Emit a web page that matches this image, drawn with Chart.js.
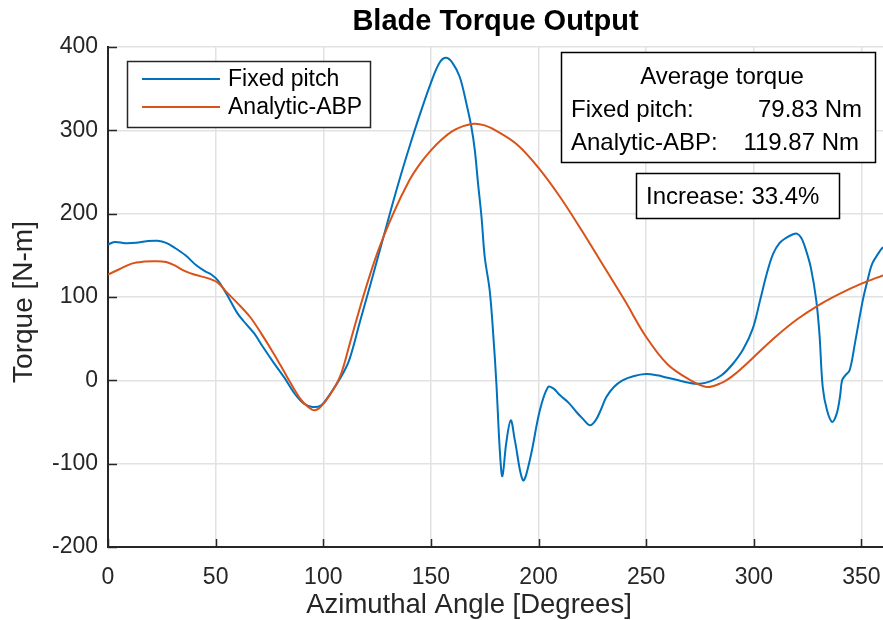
<!DOCTYPE html>
<html>
<head>
<meta charset="utf-8">
<script src="https://cdn.jsdelivr.net/npm/chart.js@4"></script>
<style>
  html, body { margin: 0; padding: 0; background: #fff; }
</style>
</head>
<body>
<canvas id="torque-chart" width="883" height="620"></canvas>
<script>
// Data
const fixedAngle = [0, 3, 8, 13, 18, 23, 27, 31, 36, 41, 45, 48, 51, 55, 60, 64, 68, 72, 77, 82, 87, 91, 95, 99, 103, 108, 112, 117, 122, 127, 132, 136, 140, 145, 150, 154, 157, 160, 163.4, 166.5, 168.8, 170.4, 171.9, 173.5, 175, 177.3, 178.9, 180.4, 182, 183.2, 185, 187.1, 189, 192.8, 196, 200.6, 204.4, 207, 210, 214, 217.6, 220.5, 223.8, 226.5, 229, 231.5, 235, 239, 244, 250, 255, 260, 265, 270, 275, 280, 285, 290, 295, 299.5, 303, 306, 309, 312, 315, 318, 320, 322, 324, 326.5, 329, 330.5, 332, 334, 336.4, 338.5, 340, 341, 342.5, 344.5, 347, 350.6, 353, 355, 358, 360];
const fixedTorque = [163, 166, 164.5, 165, 167, 167.5, 165, 159, 150, 138, 131, 127, 120, 104, 81, 68, 56, 40, 21, 3, -17, -28, -32, -30, -17, 3, 24, 70, 116, 163, 210, 246, 280, 320, 357, 381, 387, 381, 364, 332, 304, 276, 236, 196, 148, 108, 57, -3, -84, -115, -75, -48, -72, -120, -95, -36, -8, -10, -18, -27, -38, -46, -54, -48, -35, -20, -8, 0, 5, 7.5, 6, 3, 0, -3, -4, -1, 6, 19, 37, 62, 97, 128, 152, 165, 171, 175, 176, 171, 158, 135, 96, 55, -8, -36, -50, -40, -20, 0, 6, 12, 45, 96, 122, 140, 153, 160];

const abpAngle = [0, 5, 11, 17, 22, 27, 31, 35, 40, 47, 51, 55, 60, 66, 71, 77, 83, 89, 93, 96, 99, 103, 108, 112.3, 118.5, 125, 132.5, 140, 145, 150, 155, 160, 165, 170, 175, 180, 190, 200, 210, 220, 230, 240, 250, 260, 270, 278, 285, 290, 295, 300, 310, 320, 330, 340, 350, 360];
const abpTorque = [127, 133, 140, 142.5, 143, 142, 138, 132, 127, 122, 117, 106, 93, 76, 57, 32, 5, -21, -32, -36, -31, -18, 6, 44, 100, 152, 200, 240, 260, 276, 289, 299, 305, 308, 306, 300, 283, 255, 220, 180, 138, 96, 52, 19, 1, -8, -3, 5, 16, 28, 52, 73, 90, 104, 116, 126];

const xTicks = [0, 50, 100, 150, 200, 250, 300, 350];
const yTicks = [-200, -100, 0, 100, 200, 300, 400];

const seriesNames = ["Fixed pitch", "Analytic-ABP"];
const avgTorque = ["79.83 Nm", "119.87 Nm"];
const increaseText = "Increase: 33.4%";

const BLUE = "#0072BD";
const ORANGE = "#D95319";
const INK = "#262626";
const FONT = "'Liberation Sans', Arial, Helvetica, sans-serif";

// title, axis labels, inward ticks, legend and the text boxes
const overlay = {
  id: "overlay",
  afterDraw(chart) {
    const ctx = chart.ctx;
    const area = chart.chartArea;
    const xs = chart.scales.x, ys = chart.scales.y;
    ctx.save();

    // inward tick marks
    ctx.strokeStyle = INK;
    ctx.lineWidth = 1.5;
    ctx.beginPath();
    xTicks.forEach(v => {
      const px = Math.round(xs.getPixelForValue(v)) + 0.5;
      ctx.moveTo(px, area.bottom);
      ctx.lineTo(px, area.bottom - 8);
    });
    yTicks.forEach(v => {
      const py = Math.round(ys.getPixelForValue(v)) + 0.5;
      ctx.moveTo(area.left, py);
      ctx.lineTo(area.left + 9, py);
    });
    ctx.stroke();

    // title
    ctx.fillStyle = "#000";
    ctx.font = "bold 29px " + FONT;
    ctx.textAlign = "center";
    ctx.textBaseline = "middle";
    ctx.fillText("Blade Torque Output", (area.left + area.right) / 2, 22);

    // axis labels
    ctx.fillStyle = INK;
    ctx.font = "27.5px " + FONT;
    ctx.fillText("Azimuthal Angle [Degrees]", 469, 605);
    ctx.save();
    ctx.translate(24, 302);
    ctx.rotate(-Math.PI / 2);
    ctx.font = "28px " + FONT;
    ctx.fillText("Torque [N-m]", 0, 0);
    ctx.restore();

    // legend
    ctx.fillStyle = "#fff";
    ctx.fillRect(127, 61, 243, 66);
    ctx.strokeStyle = INK;
    ctx.lineWidth = 1.5;
    ctx.strokeRect(127.5, 61.5, 243, 66);
    [BLUE, ORANGE].forEach((c, i) => {
      const y = 79 + i * 28;
      ctx.strokeStyle = c;
      ctx.lineWidth = 2;
      ctx.beginPath();
      ctx.moveTo(142, y);
      ctx.lineTo(220, y);
      ctx.stroke();
      ctx.fillStyle = "#000";
      ctx.font = "23px " + FONT;
      ctx.textAlign = "left";
      ctx.fillText(seriesNames[i], 228, y + 1);
    });

    // average torque box
    ctx.fillStyle = "#fff";
    ctx.fillRect(561, 52, 314, 110);
    ctx.strokeStyle = "#000";
    ctx.lineWidth = 1.5;
    ctx.strokeRect(561.5, 52.5, 314, 110);
    ctx.fillStyle = "#000";
    ctx.font = "24px " + FONT;
    ctx.textAlign = "center";
    ctx.fillText("Average torque", 722, 77);
    ctx.textAlign = "left";
    ctx.fillText(seriesNames[0] + ":", 571, 110);
    ctx.fillText(seriesNames[1] + ":", 571, 143);
    ctx.textAlign = "right";
    ctx.fillText(avgTorque[0], 862, 110);
    ctx.fillText(avgTorque[1], 859, 143);

    // increase box
    ctx.fillStyle = "#fff";
    ctx.fillRect(636, 173, 203, 45);
    ctx.strokeRect(636.5, 173.5, 203, 45);
    ctx.fillStyle = "#000";
    ctx.textAlign = "left";
    ctx.fillText(increaseText, 646, 197);

    ctx.restore();
  }
};

new Chart(document.getElementById("torque-chart"), {
  type: "line",
  data: {
    datasets: [
      {
        label: seriesNames[0],
        data: fixedAngle.map((a, i) => ({ x: a, y: fixedTorque[i] })),
        borderColor: BLUE,
        borderWidth: 2,
        pointRadius: 0,
        tension: 0.35,
        order: 1,
      },
      {
        label: seriesNames[1],
        data: abpAngle.map((a, i) => ({ x: a, y: abpTorque[i] })),
        borderColor: ORANGE,
        borderWidth: 2,
        pointRadius: 0,
        tension: 0.35,
        order: 0,
      },
    ],
  },
  options: {
    responsive: false,
    animation: false,
    devicePixelRatio: 1,
    layout: { padding: { top: 47, right: 0, left: 0, bottom: 0 } },
    plugins: {
      legend: { display: false },
      title: { display: false },
      tooltip: { enabled: false },
    },
    scales: {
      x: {
        type: "linear",
        min: 0,
        max: 360,
        afterBuildTicks: s => { s.ticks = xTicks.map(v => ({ value: v })); },
        afterFit: s => { s.height = 73; s.paddingRight = 0; s.paddingLeft = 0; },
        grid: { color: "#e2e2e2", lineWidth: 1.5, drawTicks: false },
        border: { color: INK, width: 2 },
        ticks: { color: INK, font: { family: FONT, size: 23 }, padding: 17, maxRotation: 0 },
      },
      y: {
        min: -200,
        max: 400,
        afterBuildTicks: s => { s.ticks = yTicks.map(v => ({ value: v })); },
        afterFit: s => { s.width = 108; },
        grid: { color: "#e2e2e2", lineWidth: 1.5, drawTicks: false },
        border: { color: INK, width: 2 },
        ticks: { color: INK, font: { family: FONT, size: 23 }, padding: 10 },
      },
    },
  },
  plugins: [overlay],
});
</script>
</body>
</html>
